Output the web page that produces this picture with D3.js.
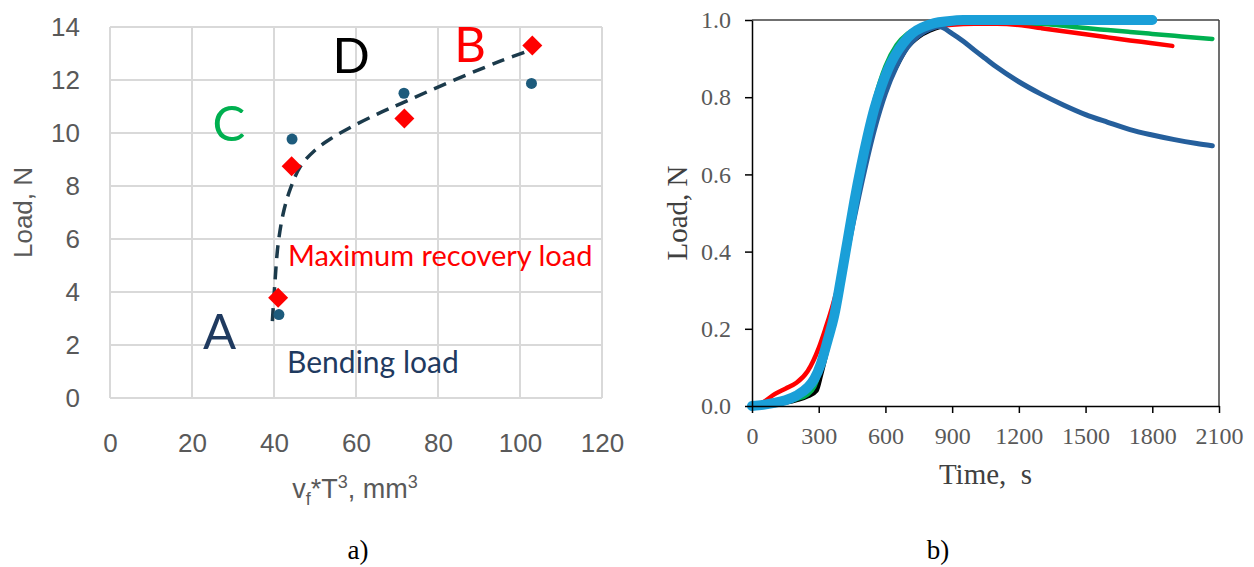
<!DOCTYPE html>
<html>
<head>
<meta charset="utf-8">
<script src="https://cdn.jsdelivr.net/npm/d3@7"></script>
<style>
body { margin: 0; background: #fff; }
</style>
</head>
<body>
<svg id="chart" width="1254" height="567"></svg>
<script>
// ---- panel a) data ----
var aXTicks = [0, 20, 40, 60, 80, 100, 120];
var aYTicks = [0, 2, 4, 6, 8, 10, 12, 14];
var bendX = [41.2, 44.4, 71.7, 102.8];
var bendY = [3.15, 9.77, 11.5, 11.87];
var recovX = [41.0, 44.3, 71.8, 103.0];
var recovY = [3.78, 8.75, 10.55, 13.3];
var trendX = [39.6, 40.2, 41.0, 42.3, 44.0, 46.5, 50, 54, 58.5, 65, 71.5, 81, 95, 104];
var trendY = [2.9, 4.3, 5.8, 7.0, 7.9, 8.75, 9.35, 9.8, 10.2, 10.7, 11.15, 11.8, 12.7, 13.2];

// ---- panel b) data ----
var bXTicks = [0, 300, 600, 900, 1200, 1500, 1800, 2100];
var bYTicks = [0, 0.2, 0.4, 0.6, 0.8, 1.0];
var tBlack = [0, 100, 200, 250, 290, 310, 340, 380, 420, 460, 500, 550, 600, 650, 700, 750, 800, 850, 900, 1000, 1100, 1200, 1300];
var yBlack = [0, 0.004, 0.015, 0.025, 0.04, 0.08, 0.15, 0.25, 0.37, 0.5, 0.61, 0.73, 0.82, 0.88, 0.93, 0.957, 0.973, 0.983, 0.99, 0.993, 0.993, 0.992, 0.99];
var tRed = [0, 50, 100, 150, 200, 250, 300, 330, 360, 400, 450, 500, 550, 600, 650, 700, 750, 800, 900, 1000, 1100, 1200, 1300, 1400, 1500, 1600, 1700, 1800, 1890];
var yRed = [0, 0.01, 0.03, 0.045, 0.06, 0.09, 0.15, 0.2, 0.255, 0.34, 0.47, 0.61, 0.73, 0.835, 0.905, 0.945, 0.965, 0.978, 0.988, 0.99, 0.99, 0.987, 0.979, 0.971, 0.963, 0.955, 0.947, 0.94, 0.933];
var tGreen = [0, 100, 200, 250, 280, 310, 350, 400, 450, 500, 550, 600, 650, 700, 750, 800, 900, 1000, 1100, 1200, 1300, 1400, 1500, 1600, 1700, 1800, 1900, 2000, 2070];
var yGreen = [0, 0.005, 0.018, 0.03, 0.05, 0.1, 0.2, 0.34, 0.5, 0.66, 0.79, 0.88, 0.935, 0.965, 0.98, 0.99, 0.995, 0.996, 0.995, 0.993, 0.99, 0.985, 0.979, 0.974, 0.969, 0.964, 0.959, 0.954, 0.951];
var tDark = [0, 100, 200, 250, 300, 350, 400, 450, 500, 550, 600, 650, 700, 750, 800, 840, 900, 950, 1000, 1050, 1100, 1200, 1300, 1400, 1500, 1600, 1700, 1800, 1900, 2000, 2070];
var yDark = [0, 0.006, 0.025, 0.045, 0.085, 0.19, 0.32, 0.46, 0.595, 0.715, 0.81, 0.88, 0.93, 0.96, 0.976, 0.983, 0.965, 0.945, 0.922, 0.9, 0.878, 0.84, 0.808, 0.78, 0.755, 0.735, 0.716, 0.702, 0.69, 0.68, 0.674];
var tLight = [0, 50, 100, 150, 200, 250, 280, 310, 340, 370, 400, 430, 460, 490, 520, 550, 580, 610, 640, 680, 720, 770, 820, 880, 950, 1100, 1300, 1500, 1700, 1800];
var yLight = [0, 0.003, 0.008, 0.015, 0.027, 0.048, 0.07, 0.11, 0.17, 0.235, 0.33, 0.43, 0.53, 0.62, 0.7, 0.77, 0.825, 0.87, 0.905, 0.94, 0.965, 0.982, 0.992, 0.997, 1.0, 1.0, 1.0, 1.0, 1.0, 1.0];

var svg = d3.select("#chart");

// ================= panel a) =================
var xa = d3.scaleLinear().domain([0, 120]).range([110, 602]);
var ya = d3.scaleLinear().domain([0, 14]).range([398, 27]);
var ga = svg.append("g");

// grid
ga.selectAll(".hgrid").data(aYTicks).enter().append("line")
    .attr("x1", xa(0)).attr("x2", xa(120))
    .attr("y1", function(d) { return ya(d); })
    .attr("y2", function(d) { return ya(d); })
    .attr("stroke", "#d9d9d9").attr("stroke-width", 2);
ga.selectAll(".vgrid").data(aXTicks).enter().append("line")
    .attr("y1", ya(0)).attr("y2", ya(14))
    .attr("x1", function(d) { return xa(d); })
    .attr("x2", function(d) { return xa(d); })
    .attr("stroke", "#d9d9d9").attr("stroke-width", 2);

// axes labels only
var axA = ga.append("g")
    .attr("transform", "translate(" + xa(0) + ",0)")
    .call(d3.axisLeft(ya).tickValues(aYTicks).tickSize(0).tickPadding(30));
var axB = ga.append("g")
    .attr("transform", "translate(0," + ya(0) + ")")
    .call(d3.axisBottom(xa).tickValues(aXTicks).tickSize(0).tickPadding(36));
[axA, axB].forEach(function(ax) {
    ax.select(".domain").remove();
    ax.selectAll("text")
        .attr("fill", "#595959")
        .attr("font-family", "Liberation Sans, Arial, sans-serif")
        .attr("font-size", 26);
});

// axis titles
ga.append("text")
    .attr("transform", "translate(32," + ya(7.0) + ") rotate(-90)")
    .attr("text-anchor", "middle")
    .attr("fill", "#595959")
    .attr("font-family", "Liberation Sans, Arial, sans-serif")
    .attr("font-size", 26)
    .text("Load, N");

var xt = ga.append("text")
    .attr("x", 355).attr("y", 498)
    .attr("text-anchor", "middle")
    .attr("fill", "#595959")
    .attr("font-family", "Liberation Sans, Arial, sans-serif")
    .attr("font-size", 27);
xt.append("tspan").text("v");
xt.append("tspan").attr("font-size", 18).attr("dy", 7).text("f");
xt.append("tspan").attr("dy", -7).text("*T");
xt.append("tspan").attr("font-size", 18).attr("dy", -10).text("3");
xt.append("tspan").attr("dy", 10).text(", mm");
xt.append("tspan").attr("font-size", 18).attr("dy", -10).text("3");

// dashed trend line
var trend = trendX.map(function(d, i) { return [d, trendY[i]]; });
ga.append("path")
    .datum(trend)
    .attr("fill", "none")
    .attr("stroke", "#1b3a4b")
    .attr("stroke-width", 3.5)
    .attr("stroke-dasharray", "13,8")
    .attr("d", d3.line()
        .x(function(d) { return xa(d[0]); })
        .y(function(d) { return ya(d[1]); })
        .curve(d3.curveCatmullRom));

// markers
ga.selectAll(".bend").data(bendX).enter().append("circle")
    .attr("cx", function(d) { return xa(d); })
    .attr("cy", function(d, i) { return ya(bendY[i]); })
    .attr("r", 5.5)
    .attr("fill", "#1d5b7c");
ga.selectAll(".recov").data(recovX).enter().append("path")
    .attr("transform", function(d, i) { return "translate(" + xa(d) + "," + ya(recovY[i]) + ")"; })
    .attr("d", "M0,-10L10,0L0,10L-10,0Z")
    .attr("fill", "#ff0000");

// annotations (placed in data units)
var notes = [
    {t: "D", x: 58.8, y: 12.26, c: "#000000", s: 49, a: "middle"},
    {t: "B", x: 87.8, y: 12.68, c: "#ff0000", s: 49, a: "middle"},
    {t: "C", x: 29.0, y: 9.7, c: "#00b050", s: 49, a: "middle"},
    {t: "A", x: 26.7, y: 1.85, c: "#1f3a5f", s: 49, a: "middle"},
    {t: "Maximum recovery load", x: 43.4, y: 4.98, c: "#ff0000", s: 29, a: "start"},
    {t: "Bending load", x: 43.2, y: 0.95, c: "#1f3a5f", s: 30, a: "start"}
];
ga.selectAll(".note").data(notes).enter().append("text")
    .attr("x", function(d) { return xa(d.x); })
    .attr("y", function(d) { return ya(d.y); })
    .attr("text-anchor", function(d) { return d.a; })
    .attr("fill", function(d) { return d.c; })
    .attr("font-size", function(d) { return d.s; })
    .attr("font-family", "Lato, sans-serif")
    .text(function(d) { return d.t; });

// ================= panel b) =================
var xb = d3.scaleLinear().domain([0, 2100]).range([752, 1219]);
var yb = d3.scaleLinear().domain([0, 1]).range([406, 20]);
var gb = svg.append("g");

// frame top & right
gb.append("line").attr("x1", xb(0)).attr("x2", xb(2100)).attr("y1", yb(1)).attr("y2", yb(1))
    .attr("stroke", "#404040").attr("stroke-width", 1.5);
gb.append("line").attr("x1", xb(2100)).attr("x2", xb(2100)).attr("y1", yb(1)).attr("y2", yb(0))
    .attr("stroke", "#404040").attr("stroke-width", 1.5);

var series = [
    {t: tBlack, y: yBlack, c: "#000000", w: 4.5},
    {t: tRed, y: yRed, c: "#ff0000", w: 4.5},
    {t: tGreen, y: yGreen, c: "#00b050", w: 4.5},
    {t: tDark, y: yDark, c: "#255f9c", w: 5},
    {t: tLight, y: yLight, c: "#1a9fd8", w: 10}
];
var lineB = d3.line()
    .x(function(d) { return xb(d[0]); })
    .y(function(d) { return yb(d[1]); })
    .curve(d3.curveMonotoneX);
gb.selectAll(".series").data(series).enter().append("path")
    .attr("fill", "none")
    .attr("stroke", function(d) { return d.c; })
    .attr("stroke-width", function(d) { return d.w; })
    .attr("stroke-linecap", "round")
    .attr("stroke-linejoin", "round")
    .attr("d", function(d) { return lineB(d.t.map(function(v, i) { return [v, d.y[i]]; })); });

var bxAxis = gb.append("g")
    .attr("transform", "translate(0," + yb(0) + ")")
    .call(d3.axisBottom(xb).tickValues(bXTicks).tickFormat(d3.format("d")).tickSize(7).tickSizeOuter(0).tickPadding(14));
var byAxis = gb.append("g")
    .attr("transform", "translate(" + xb(0) + ",0)")
    .call(d3.axisLeft(yb).tickValues(bYTicks).tickFormat(d3.format(".1f")).tickSize(7).tickSizeOuter(0).tickPadding(14));
[bxAxis, byAxis].forEach(function(ax) {
    ax.select(".domain").attr("stroke", "#000").attr("stroke-width", 1.5);
    ax.selectAll(".tick line").attr("stroke", "#000").attr("stroke-width", 1.5);
    ax.selectAll("text")
        .attr("fill", "#595959")
        .attr("font-family", "Liberation Serif, Times New Roman, serif")
        .attr("font-size", 24);
});

gb.append("text")
    .attr("transform", "translate(687," + yb(0.5) + ") rotate(-90)")
    .attr("text-anchor", "middle")
    .attr("fill", "#404040")
    .attr("font-family", "Liberation Serif, Times New Roman, serif")
    .attr("font-size", 29)
    .text("Load, N");
gb.append("text")
    .attr("x", xb(1050)).attr("y", 484)
    .attr("text-anchor", "middle")
    .attr("fill", "#404040")
    .attr("font-family", "Liberation Serif, Times New Roman, serif")
    .attr("font-size", 29)
    .style("white-space", "pre")
    .text("Time,  s");

// panel captions
svg.selectAll(".cap").data([{t: "a)", x: 358}, {t: "b)", x: 938}]).enter().append("text")
    .attr("x", function(d) { return d.x; })
    .attr("y", 559)
    .attr("text-anchor", "middle")
    .attr("fill", "#000")
    .attr("font-family", "Liberation Serif, Times New Roman, serif")
    .attr("font-size", 27)
    .text(function(d) { return d.t; });
</script>
</body>
</html>
